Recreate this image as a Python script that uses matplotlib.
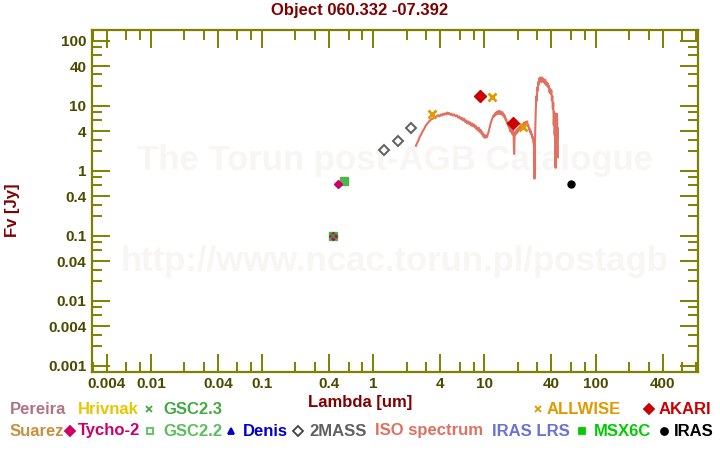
import matplotlib
matplotlib.use("Agg")
import matplotlib.pyplot as plt
from matplotlib.ticker import FixedLocator, LogLocator, NullFormatter
from matplotlib.lines import Line2D

# photometry (wavelength in um, flux in Jy)
tycho_wl = [0.484, 0.436]
tycho_fx = [0.63, 0.10]
gsc22_wl = [0.548, 0.436]
gsc22_fx = [0.70, 0.10]
gsc23_wl = [0.436]
gsc23_fx = [0.10]
tmass_wl = [1.24, 1.66, 2.17]
tmass_fx = [2.08, 2.86, 4.54]
allwise_wl = [3.35, 11.6, 22.2]
allwise_fx = [7.45, 13.7, 4.75]
akari_wl = [9.06, 17.9]
akari_fx = [14.1, 5.42]
iras_wl = [59.9]
iras_fx = [0.615]

# ISO spectrum
iso_wl = [2.42, 2.48, 2.55, 2.62, 2.7, 2.8, 2.88, 2.96, 3.05, 3.15, 3.25, 3.35, 3.45,
          3.55, 3.65, 3.75, 3.85, 3.95, 4.05, 4.15, 4.25, 4.35, 4.45, 4.55, 4.65,
          4.75, 4.85, 4.95, 5.05, 5.2, 5.35, 5.5, 5.65, 5.8, 5.95, 6.1, 6.25, 6.4,
          6.55, 6.7, 6.85, 7.0, 7.15, 7.3, 7.45, 7.6, 7.75, 7.9, 8.05, 8.2, 8.35,
          8.5, 8.65, 8.8, 8.95, 9.1, 9.25, 9.4, 9.55, 9.7, 9.85, 10.0, 10.15, 10.3,
          10.45, 10.6, 10.75, 10.9, 11.05, 11.2, 11.35, 11.5, 11.7, 11.9, 12.1,
          12.3, 12.5, 12.7, 12.9, 13.1, 13.3, 13.5, 13.7, 13.9, 14.1, 14.3, 14.5,
          14.7, 14.9, 15.1, 15.3, 15.5, 15.7, 15.9, 16.1, 16.3, 16.5, 16.7, 16.9,
          17.1, 17.3, 17.5, 17.7, 17.9, 18.1, 18.3, 18.5, 18.7, 18.9, 19.1, 19.4,
          19.7, 20.0, 20.3, 20.6, 20.9, 21.2, 21.5, 21.8, 22.1, 22.4, 22.7, 23.0,
          23.3, 23.6, 23.9, 24.2, 24.5, 24.8, 25.1, 25.4, 25.7, 26.0, 26.3, 26.6,
          26.9, 27.2, 27.5, 27.8, 28.0, 28.2, 28.4, 28.7, 29.0, 29.3, 29.6, 29.9,
          30.2, 30.5, 30.8, 31.1, 31.4, 31.7, 32.0, 32.3, 32.6, 32.9, 33.2, 33.6,
          34.0, 34.4, 34.8, 35.2, 35.6, 36.0, 36.5, 37.0, 37.5, 38.0, 38.5, 39.0,
          39.5, 40.0, 40.4, 40.8, 41.2, 41.6, 42.0, 42.4, 42.8, 43.2, 43.6, 44.0,
          44.3, 44.6, 45.0, 45.3, 45.6, 45.8]
iso_fx = [2.4, 2.65, 2.9, 3.3, 3.6, 4.1, 4.4, 4.9, 5.2, 5.6, 5.9, 6.2, 6.3,
          6.6, 6.5, 6.9, 7.1, 6.8, 7.3, 7.0, 7.5, 7.2, 7.6, 7.3, 7.8,
          7.4, 7.6, 7.2, 7.5, 7.0, 7.3, 6.8, 7.1, 6.5, 6.8, 6.2, 6.5, 5.9,
          6.3, 5.6, 5.9, 5.3, 5.7, 5.2, 5.5, 4.9, 5.3, 4.8, 5.1, 4.6, 4.9,
          4.3, 4.6, 4.1, 4.5, 3.9, 4.2, 3.7, 3.9, 3.4, 3.6, 3.2, 3.5, 3.2,
          3.4, 3.3, 3.7, 3.9, 4.4, 4.7, 5.3, 5.6, 6.2, 6.6, 7.1,
          6.8, 7.6, 7.2, 8.0, 7.4, 8.2, 7.5, 8.3, 7.4, 8.0, 7.3, 7.9,
          7.0, 7.4, 6.6, 6.9, 6.0, 6.2, 5.4, 5.6, 4.9, 5.0, 4.5, 4.7,
          4.0, 4.5, 3.9, 4.3, 3.6, 4.1, 3.5, 1.8, 3.7, 3.9, 3.6, 4.2,
          3.8, 4.4, 4.1, 4.7, 4.3, 4.8, 4.4, 5.0, 4.7, 5.3, 4.9, 5.5,
          5.0, 5.6, 5.1, 5.7, 4.9, 5.0, 4.4, 4.5, 3.9, 4.1, 3.6, 3.7,
          3.2, 3.3, 2.8, 2.5, 1.9, 0.75, 2.0, 5.0, 9, 14, 12, 19,
          17, 23, 21, 26, 23, 27, 24, 26, 23, 27, 24, 26,
          23, 25, 22, 25, 21, 23, 20, 22, 19, 20, 16, 18,
          15, 17, 12, 14, 9, 11, 5, 8, 3.5, 6, 1.1, 5,
          7.5, 6.5, 7.4, 3.0, 4.5, 1.6]

x_ticks = [0.004, 0.01, 0.04, 0.1, 0.4, 1, 4, 10, 40, 100, 400]
x_labels = ["0.004", "0.01", "0.04", "0.1", "0.4", "1", "4", "10", "40", "100", "400"]
y_ticks = [0.001, 0.004, 0.01, 0.04, 0.1, 0.4, 1, 4, 10, 40, 100]
y_labels = ["0.001", "0.004", "0.01", "0.04", "0.1", "0.4", "1", "4", "10", "40", "100"]

plt.rcParams['font.family'] = ['Liberation Sans', 'DejaVu Sans']
plt.rcParams['font.weight'] = 'bold'

axis_col = "#808000"
label_col = "#4b4b00"
red_col = "#800000"

fig = plt.figure(figsize=(7.2, 4.5), dpi=100)
ax = fig.add_axes([0.1278, 0.1744, 0.8416, 0.7589])

# watermark
ax.text(0.5, 0.617, "The Torun post-AGB Catalogue", transform=ax.transAxes,
        ha="center", va="center", fontsize=25, fontweight="bold", color="#f8f6f2", zorder=0)
ax.text(0.5, 0.323, "http://www.ncac.torun.pl/postagb", transform=ax.transAxes,
        ha="center", va="center", fontsize=25, fontweight="bold", color="#f8f6f2", zorder=0)

ax.plot(iso_wl, iso_fx, color="#e07060", lw=1.5, zorder=2)
ax.plot(gsc22_wl, gsc22_fx, "s", color="#4cb84c", ms=5.5, zorder=3)
ax.plot(tycho_wl, tycho_fx, "D", color="#cc0066", ms=4.5, zorder=3)
ax.plot(gsc23_wl, gsc23_fx, "x", color="#3c9c3c", ms=4, mew=1.2, zorder=4)
ax.plot(tmass_wl, tmass_fx, "D", mfc="white", mec="#606060", mew=1.4, ms=5, zorder=3)
ax.plot(allwise_wl, allwise_fx, "x", color="#e09a00", ms=6, mew=2, zorder=4)
ax.plot(akari_wl, akari_fx, "D", color="#cc0000", ms=6, zorder=4)
ax.plot(iras_wl, iras_fx, "o", color="black", ms=5, zorder=4)

ax.set_xscale("log")
ax.set_yscale("log")
ax.set_xlim(0.00296, 832)
ax.set_ylim(0.00081, 145)

ax.xaxis.set_major_locator(FixedLocator(x_ticks))
ax.set_xticklabels(x_labels)
ax.yaxis.set_major_locator(FixedLocator(y_ticks))
ax.set_yticklabels(y_labels)
ax.xaxis.set_minor_locator(LogLocator(base=10, subs=(2, 3, 6, 8), numticks=20))
ax.yaxis.set_minor_locator(LogLocator(base=10, subs=(2, 3, 6, 8), numticks=20))
ax.xaxis.set_minor_formatter(NullFormatter())
ax.yaxis.set_minor_formatter(NullFormatter())

ax.tick_params(which="both", direction="in", top=True, right=True, color=axis_col,
               labelcolor=label_col, labelsize=11, width=1.4)
ax.tick_params(which="major", length=13, pad=4)
ax.tick_params(which="minor", length=7)
for s in ax.spines.values():
    s.set_color(axis_col)
    s.set_linewidth(1.6)

fig.text(0.5, 1 - 11 / 450, "Object 060.332 -07.392", ha="center", va="center",
         fontsize=12, fontweight="bold", color=red_col)
fig.text(0.5, 1 - 402 / 450, "Lambda [um]", ha="center", va="center",
         fontsize=12, fontweight="bold", color=red_col)
fig.text(12 / 720, 1 - 210 / 450, "Fv [Jy]", ha="center", va="center", rotation=90,
         fontsize=12, fontweight="bold", color=red_col)

# legend rows drawn as text + marker glyphs
row1 = 1 - 409 / 450
row2 = 1 - 431 / 450
legend_text = [
    ("Pereira", 10, row1, "#b07585"),
    ("Hrivnak", 78, row1, "#e6c800"),
    ("GSC2.3", 163, row1, "#44aa44"),
    ("ALLWISE", 547, row1, "#e09a00"),
    ("AKARI", 659, row1, "#cc0000"),
    ("Suarez", 10, row2, "#c89040"),
    ("Tycho-2", 78, row2, "#cc0066"),
    ("GSC2.2", 163, row2, "#5cbf5c"),
    ("Denis", 243, row2, "#0000cc"),
    ("2MASS", 309, row2, "#606060"),
    ("ISO spectrum", 375, row2, "#e07060"),
    ("IRAS LRS", 492, row2, "#6a72d6"),
    ("MSX6C", 594, row2, "#00cc00"),
    ("IRAS", 674, row2, "black"),
]
for txt, px, py, col in legend_text:
    fig.text(px / 720, py, txt, ha="left", va="center", fontsize=12,
             fontweight="bold", color=col)

legend_marks = [
    (149, row1, "x", "#44aa44", "#44aa44"),
    (538, row1, "x", "#e09a00", "#e09a00"),
    (649, row1, "D", "#cc0000", "#cc0000"),
    (70, row2, "D", "#cc0066", "#cc0066"),
    (150, row2, "s", "white", "#5cbf5c"),
    (231, row2, "^", "#0000cc", "#0000cc"),
    (298, row2, "D", "white", "#404040"),
    (582, row2, "s", "#00cc00", "#00cc00"),
    (664, row2, "o", "black", "black"),
]
for px, py, m, fc, ec in legend_marks:
    fig.add_artist(Line2D([px / 720], [py], marker=m, mfc=fc, mec=ec, ms=5,
                          mew=1.3, ls="none", transform=fig.transFigure))

fig.savefig("out.png", dpi=100)
